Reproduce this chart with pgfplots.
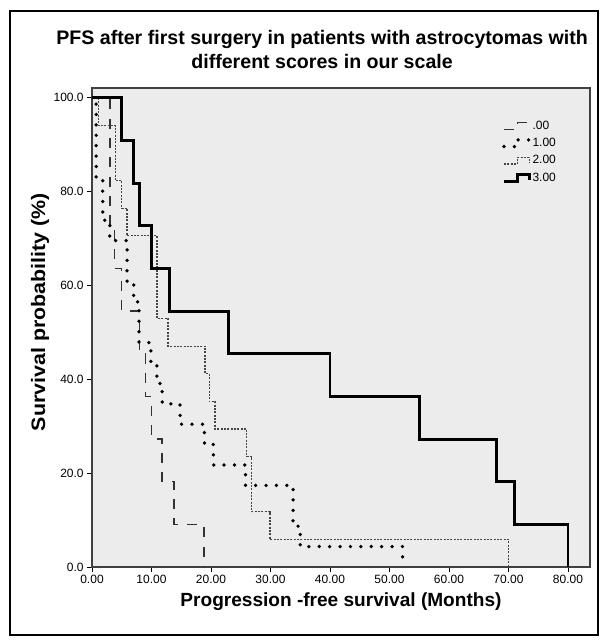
\documentclass[border=0pt]{standalone}
\usepackage{fontspec}
\setmainfont{Liberation Sans}
\usepackage{graphicx}
\usepackage{pgfplots}
\pgfplotsset{compat=1.18}
\definecolor{plotbg}{RGB}{236,236,236}
\definecolor{dashgray}{RGB}{50,50,50}
\definecolor{dotgray}{RGB}{70,70,70}
\begin{document}
\begin{tikzpicture}
\fill[white] (-69pt,-57pt) rectangle (387pt,425.25pt);
\useasboundingbox (-69pt,-57pt) rectangle (387pt,425.25pt);
\draw[line width=1.5pt] (-61.5pt,-51pt) rectangle (379.5pt,417pt);
\begin{axis}[
  at={(0pt,0pt)}, anchor=south west, scale only axis,
  width=373.5pt, height=359.25pt,
  xmin=0, xmax=83.7, ymin=0, ymax=102.1,
  axis background/.style={fill=plotbg},
  axis line style={black!75, line width=0.8pt},
  xtick={0,10,...,80}, ytick={0,20,...,100},
  tick align=outside, xtick pos=bottom, ytick pos=left,
  major tick length=3.75pt,
  tick style={black, line width=0.6pt},
  /pgf/number format/assume math mode=true,
  xticklabel={\pgfmathprintnumber[fixed,fixed zerofill,precision=2]{\tick}},
  yticklabel={\pgfmathprintnumber[fixed,fixed zerofill,precision=1]{\tick}},
  ticklabel style={font=\fontsize{9}{10}\selectfont},
  xticklabel style={yshift=1pt},
  yticklabel style={xshift=1pt},
  title={PFS after first surgery in patients with astrocytomas with\\different scores in our scale},
  title style={at={(axis description cs:0.462,1.063)}, anchor=center, align=center, font=\bfseries\fontsize{14.7}{18}\selectfont},
  xlabel={Progression -free survival (Months)},
  ylabel={\scalebox{1.1}[1]{Survival probability (\%)}},
  xlabel style={at={(axis description cs:0.5,-0.073)}, anchor=center, font=\bfseries\fontsize{14.3}{16}\selectfont},
  ylabel style={at={(axis description cs:-0.104,0.532)}, anchor=center, font=\bfseries\fontsize{14.6}{16}\selectfont},
  legend style={at={(axis description cs:0.823,0.935)}, anchor=north west, draw=none, fill=none,
    font=\fontsize{9}{10}\selectfont, row sep=3.2pt, inner sep=0pt, nodes={inner sep=1pt}},
  legend cell align=left,
  legend image code/.code={\draw[#1] (0pt,-2.5pt) -- (10pt,-2.5pt) -- (10pt,2.5pt) -- (19pt,2.5pt) -- (19pt,-1.5pt);},
]
% score .00 (n=11)
\addplot[const plot, dashgray, line width=1.1pt, dash pattern=on 7.5pt off 7pt] coordinates {
(0,100) (3,72.73) (3.8,63.64) (5,54.55) (8,45.45) (9,36.36) (10,27.27) (11.8,18.18) (13.8,9.09) (18.8,0)};
\addlegendentry{.00}
% score 1.00 (n=23)
\addplot[const plot, black, line width=2.8pt, line cap=round, dash pattern=on 0pt off 7.8pt] coordinates {
(0,100) (0.7,82.61) (1.8,73.91) (3,69.57) (5.9,60.87) (7,56.52) (7.9,47.83) (9.9,43.48) (10.9,39.13) (11.8,34.78) (14.8,30.43) (18.9,26.09) (20.4,21.74) (25.8,17.39) (33.8,8.70) (35,4.35) (52.2,0)};
\addlegendentry{1.00}
% score 2.00 (n=17)
\addplot[const plot, dotgray, line width=1pt, dash pattern=on 1.5pt off 1pt] coordinates {
(0,100) (1.1,94.12) (3.9,82.35) (5,76.47) (5.9,70.59) (10.9,52.94) (12.8,47.06) (19,41.18) (19.7,35.29) (20.7,29.41) (26,23.53) (26.8,11.76) (29.9,5.88) (70,0)};
\addlegendentry{2.00}
% score 3.00 (n=11)
\addplot[const plot, black, line width=2.2pt] coordinates {
(0,100) (5,90.91) (7,81.82) (8,72.73) (10,63.64) (13,54.55) (23,45.45) (40,36.36) (55,27.27) (68,18.18) (71,9.09) (80,0)};
\addlegendentry{3.00}
\end{axis}
\end{tikzpicture}
\end{document}
